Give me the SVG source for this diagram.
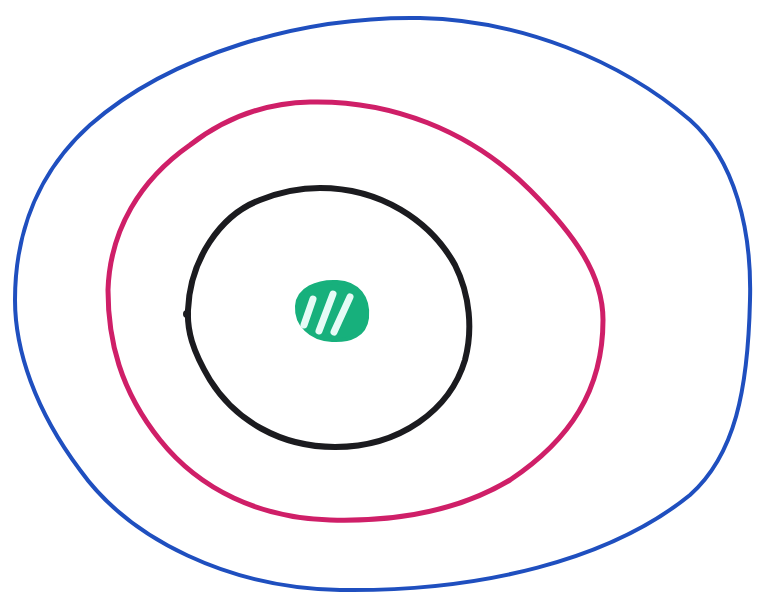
<svg xmlns="http://www.w3.org/2000/svg" width="757" height="602" viewBox="0 0 757 602">
<style>
.ring{fill:none;stroke-linecap:round;stroke-linejoin:round}
.blue{stroke:#1f4fbf;stroke-width:4}
.pink{stroke:#cf1f68;stroke-width:5}
.black{stroke:#1b1b1f;stroke-width:6}
.stripe{stroke:#e6fbf6;stroke-width:7;stroke-linecap:round}
</style>
<rect width="757" height="602" fill="#ffffff"/>
<g id="outer-ring">
<path class="ring blue" d="M 420,18 C 520,20 620,60 690,120 C 735,160 752,230 750,300 C 748,390 735,455 690,495 C 610,560 480,592 340,590 C 230,588 130,540 80,470 C 35,410 15,350 15,300 C 15,230 40,170 90,125 C 170,55 300,16 420,18 Z"/>
</g>
<g id="middle-ring">
<path class="ring pink" d="M 310,102 C 390,100 470,130 530,190 C 575,235 603,275 603,320 C 603,390 570,440 510,480 C 460,510 400,522 330,520 C 260,518 200,490 160,440 C 120,390 108,340 108,290 C 110,230 140,180 190,145 C 225,118 265,103 310,102 Z"/>
</g>
<g id="inner-ring">
<path class="ring black" d="M 320,188 C 380,188 430,220 455,265 C 470,295 473,330 465,360 C 450,410 400,447 335,447 C 280,447 235,420 210,380 C 192,350 187,330 188,310 C 190,260 220,215 260,200 C 280,192 300,188 320,188 Z"/>
<circle cx="187" cy="314" r="4" fill="#1b1b1f"/>
</g>
<g id="core">
<path d="M 297,306 C 298,289 317,281 337,282 C 358,283 369,298 367,318 C 365,335 350,341 332,340 C 310,339 296,324 297,306 Z" fill="#17b07c" stroke="#17b07c" stroke-width="4"/>
<line class="stripe" x1="304" y1="325" x2="313" y2="299"/>
<line class="stripe" x1="319" y1="331" x2="333" y2="294"/>
<line class="stripe" x1="334" y1="332" x2="350" y2="297"/>
</g>
</svg>
